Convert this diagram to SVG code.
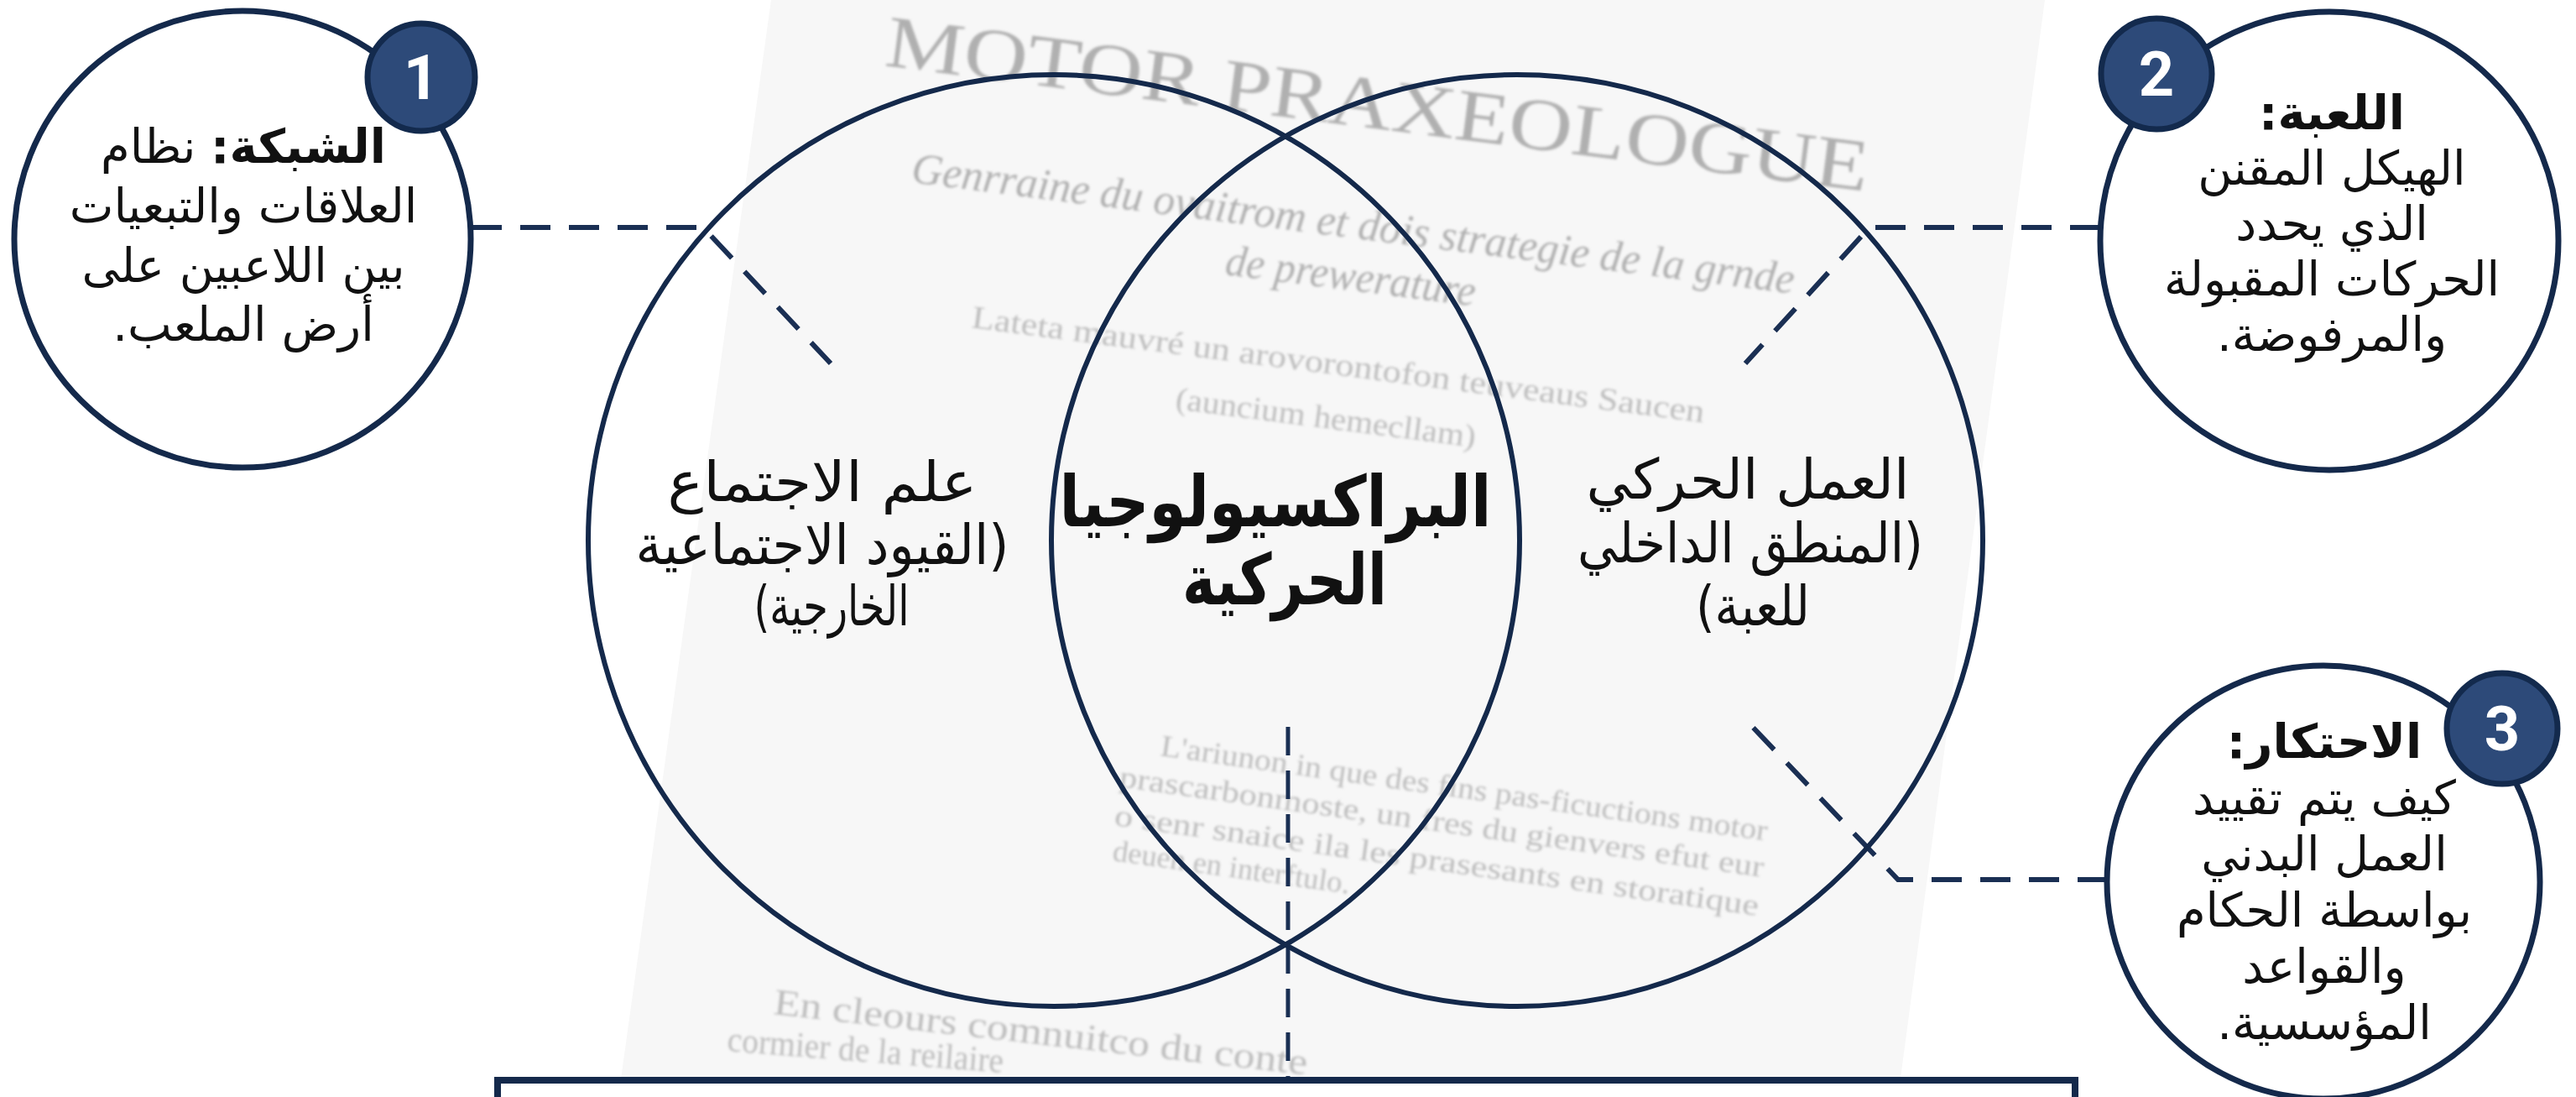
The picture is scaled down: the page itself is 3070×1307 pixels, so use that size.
<svg xmlns="http://www.w3.org/2000/svg" width="3070" height="1307" viewBox="0 0 3070 1307">
<defs>
<style>
.ar{font-family:"DejaVu Sans","Noto Sans",sans-serif;fill:#111;text-anchor:middle;direction:rtl}
.sm{font-size:56px}
.big{font-size:66px}
.ctr{font-size:84px;font-weight:700}
.b{font-weight:700}
.ring{fill:#ffffff;stroke:#14294b;stroke-width:7}
.venn{fill:none;stroke:#14294b;stroke-width:6}
.badge{fill:#2d4a79;stroke:#132a4d;stroke-width:7}
.num{font-family:Roboto,"Liberation Sans",sans-serif;font-weight:700;font-size:74px;fill:#ffffff;text-anchor:middle}
.dash{fill:none;stroke:#1a2f53;stroke-width:6;stroke-dasharray:36 22}
.wm{font-family:"Liberation Serif",serif;fill:#b0b0b0}
</style>
<filter id="blur" x="-5%" y="-20%" width="110%" height="140%"><feGaussianBlur stdDeviation="1.6"/></filter>
</defs>
<rect width="3070" height="1307" fill="#ffffff"/>
<g id="page">
<polygon points="919,0 2437,0 2262,1307 737,1307" fill="#f7f7f7"/>
<g filter="url(#blur)" class="wm">
<text x="1053" y="78" font-size="88" transform="rotate(7.3 1053 78)" textLength="1180" lengthAdjust="spacingAndGlyphs">MOTOR PRAXEOLOGUE</text>
<text x="1085" y="217" font-size="52" font-style="italic" transform="rotate(7.2 1085 217)" textLength="1060" lengthAdjust="spacingAndGlyphs">Genrraine du ovaitrom et dois strategie de la grnde</text>
<text x="1459" y="327" font-size="52" font-style="italic" transform="rotate(7.2 1459 327)" textLength="300" lengthAdjust="spacingAndGlyphs">de prewerature</text>
<text x="1157" y="390" font-size="38" transform="rotate(7.4 1157 390)" textLength="880" lengthAdjust="spacingAndGlyphs" opacity="0.8">Lateta mauvré un arovorontofon teuveaus Saucen</text>
<text x="1400" y="487" font-size="38" transform="rotate(7.3 1400 487)" textLength="360" lengthAdjust="spacingAndGlyphs" opacity="0.8">(auncium hemecllam)</text>
<text x="1382" y="900" font-size="36" transform="rotate(8 1382 900)" textLength="730" lengthAdjust="spacingAndGlyphs" opacity="0.8">L'ariunon in que des fins pas-ficuctions motor</text>
<text x="1333" y="937" font-size="36" transform="rotate(8 1333 937)" textLength="775" lengthAdjust="spacingAndGlyphs" opacity="0.8">prascarbonmoste, un fres du gienvers efut eur</text>
<text x="1327" y="983" font-size="36" transform="rotate(8 1327 983)" textLength="775" lengthAdjust="spacingAndGlyphs" opacity="0.8">o senr snaice ila les prasesants en storatique</text>
<text x="1325" y="1025" font-size="36" transform="rotate(8 1325 1025)" textLength="285" lengthAdjust="spacingAndGlyphs" opacity="0.8">deuen en interftulo.</text>
<text x="921" y="1208" font-size="44" transform="rotate(6.5 921 1208)" textLength="640" lengthAdjust="spacingAndGlyphs" opacity="0.8">En cleours comnuitco du conte</text>
<text x="866" y="1252" font-size="42" transform="rotate(4.5 866 1252)" textLength="330" lengthAdjust="spacingAndGlyphs" opacity="0.8">cormier de la reilaire</text>
</g>
</g>
<g id="connectors">
<polyline class="dash" points="562,271 838,271 990,433"/>
<polyline class="dash" points="2503,271 2228,271 2080,433"/>
<polyline class="dash" points="2512,1048 2262,1048 2078,855"/>
<line class="dash" x1="1535" y1="866" x2="1535" y2="1287" style="stroke-width:5;stroke-dasharray:34 18"/>
</g>
<g id="venn-sociology">
<circle class="venn" cx="1256" cy="644" r="555"/>
<text class="ar big" x="980" y="597" textLength="369" lengthAdjust="spacingAndGlyphs">علم الاجتماع</text>
<text class="ar big" x="980" y="672" textLength="445" lengthAdjust="spacingAndGlyphs">(القيود الاجتماعية</text>
<text class="ar big" x="991" y="745" textLength="185" lengthAdjust="spacingAndGlyphs">الخارجية)</text>
</g>
<g id="venn-motor-action">
<circle class="venn" cx="1808" cy="644" r="555"/>
<text class="ar big" x="2083" y="594" textLength="385" lengthAdjust="spacingAndGlyphs">العمل الحركي</text>
<text class="ar big" x="2086" y="670" textLength="412" lengthAdjust="spacingAndGlyphs">(المنطق الداخلي</text>
<text class="ar big" x="2089" y="745" textLength="136" lengthAdjust="spacingAndGlyphs">للعبة)</text>
</g>
<g id="venn-center">
<text class="ar ctr" x="1520" y="627" textLength="515" lengthAdjust="spacingAndGlyphs">البراكسيولوجيا</text>
<text class="ar ctr" x="1531" y="720" textLength="244" lengthAdjust="spacingAndGlyphs">الحركية</text>
</g>
<g id="note-1">
<circle class="ring" cx="289" cy="285" r="272"/>
<text class="ar sm" x="290" y="194"><tspan class="b">الشبكة:</tspan> نظام</text>
<text class="ar sm" x="290" y="265">العلاقات والتبعيات</text>
<text class="ar sm" x="290" y="336">بين اللاعبين على</text>
<text class="ar sm" x="290" y="406">أرض الملعب.</text>
<circle class="badge" cx="502" cy="92" r="64"/>
<text class="num" x="502" y="118">1</text>
</g>
<g id="note-2">
<circle class="ring" cx="2776" cy="287" r="273"/>
<text class="ar sm b" x="2779" y="154">اللعبة:</text>
<text class="ar sm" x="2779" y="220">الهيكل المقنن</text>
<text class="ar sm" x="2779" y="286">الذي يحدد</text>
<text class="ar sm" x="2779" y="352">الحركات المقبولة</text>
<text class="ar sm" x="2779" y="418">والمرفوضة.</text>
<circle class="badge" cx="2570" cy="88" r="66"/>
<text class="num" x="2570" y="114">2</text>
</g>
<g id="note-3">
<circle class="ring" cx="2769" cy="1051" r="258"/>
<text class="ar sm b" x="2770" y="903">الاحتكار:</text>
<text class="ar sm" x="2770" y="970">كيف يتم تقييد</text>
<text class="ar sm" x="2770" y="1037">العمل البدني</text>
<text class="ar sm" x="2770" y="1104">بواسطة الحكام</text>
<text class="ar sm" x="2770" y="1171">والقواعد</text>
<text class="ar sm" x="2770" y="1238">المؤسسية.</text>
<circle class="badge" cx="2982" cy="868" r="66"/>
<text class="num" x="2982" y="894">3</text>
</g>
<g id="bottom-box">
<rect x="593" y="1287" width="1880" height="100" fill="#ffffff" stroke="#14294b" stroke-width="8"/>
</g>
</svg>
